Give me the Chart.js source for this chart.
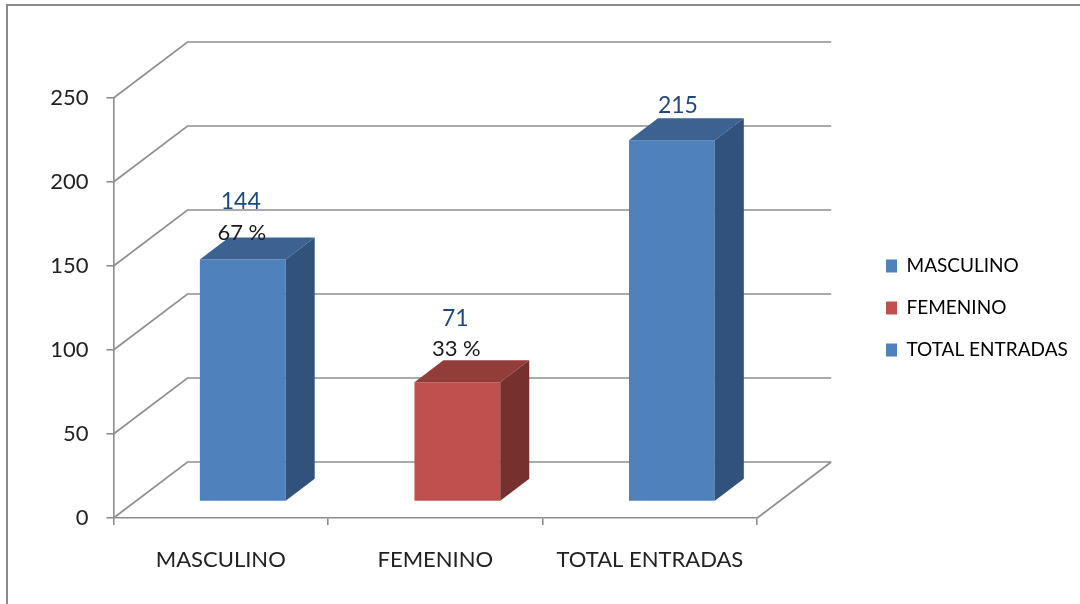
<!DOCTYPE html>
<html>
<head>
<meta charset="utf-8">
<style>html,body{margin:0;padding:0;background:#fff}canvas{display:block}</style>
<script src="https://cdn.jsdelivr.net/npm/chart.js@4"></script>
</head>
<body>
<canvas id="c" width="1080" height="604"></canvas>
<script>
const categories = ["MASCULINO", "FEMENINO", "TOTAL ENTRADAS"];
const values = [144, 71, 215];
const percents = ["67 %", "33 %", null];
const FRONT = ["#4F81BD", "#C0504D", "#4F81BD"];
const TOP = ["#3B6290", "#933D3B", "#3B6290"];
const SIDE = ["#30527C", "#76312F", "#30527C"];
const yMax = 250, yStep = 50;
const FONT = "Lato, 'Open Sans', sans-serif";
const GRID = "#8E8E8E";
// 3-D projection offsets (pixels)
const WALL = {dx: 74, dy: -56};
const BAR_SHIFT = {dx: 22, dy: -16.5};
const BAR_DEPTH = {dx: 29, dy: -22};
const VALUE_LIFT = [58, 64, 35];
const VALUE_NUDGE = [-2, -2, 6];
const LEGEND_LEFT = 886, LEGEND_LIFT = 43;

const threeD = {
  id: "threeD",
  afterLayout(chart) {
    const lg = chart.legend;
    const dx = LEGEND_LEFT - (lg.left + lg.options.labels.padding);
    lg.left += dx; lg.right += dx;
    lg.top -= LEGEND_LIFT; lg.bottom -= LEGEND_LIFT;
  },
  beforeDraw(chart) {
    const {ctx, width, height} = chart;
    ctx.save();
    ctx.fillStyle = "#fff"; ctx.fillRect(0, 0, width, height);
    ctx.strokeStyle = "#8A8A8A"; ctx.lineWidth = 2;
    ctx.beginPath(); ctx.moveTo(7, height); ctx.lineTo(7, 5); ctx.lineTo(width, 5); ctx.stroke();
    ctx.restore();
  },
  beforeDatasetsDraw(chart) {
    const {ctx, scales: {x, y}, chartArea: a} = chart;
    ctx.save();
    ctx.strokeStyle = GRID; ctx.lineWidth = 1.6;
    ctx.beginPath();
    y.ticks.forEach(t => {
      const py = y.getPixelForValue(t.value);
      ctx.moveTo(a.left, py);
      ctx.lineTo(a.left + WALL.dx, py + WALL.dy);
      ctx.lineTo(a.right + WALL.dx, py + WALL.dy);
    });
    const y0 = y.getPixelForValue(0);
    ctx.moveTo(a.right, y0);
    ctx.lineTo(a.right + WALL.dx, y0 + WALL.dy);
    ctx.stroke();
    ctx.restore();
    ctx.save();
    ctx.translate(BAR_SHIFT.dx, BAR_SHIFT.dy);
  },
  afterDatasetsDraw(chart) {
    const {ctx} = chart;
    ctx.restore();
    const bars = chart.getDatasetMeta(0).data;
    bars.forEach((b, i) => {
      const l = b.x - b.width / 2 + BAR_SHIFT.dx, r = b.x + b.width / 2 + BAR_SHIFT.dx;
      const t = b.y + BAR_SHIFT.dy, bt = b.base + BAR_SHIFT.dy;
      const D = BAR_DEPTH;
      ctx.fillStyle = TOP[i];
      ctx.beginPath();
      ctx.moveTo(l, t); ctx.lineTo(l + D.dx, t + D.dy); ctx.lineTo(r + D.dx, t + D.dy); ctx.lineTo(r, t);
      ctx.closePath(); ctx.fill();
      ctx.fillStyle = SIDE[i];
      ctx.beginPath();
      ctx.moveTo(r, t); ctx.lineTo(r + D.dx, t + D.dy); ctx.lineTo(r + D.dx, bt + D.dy); ctx.lineTo(r, bt);
      ctx.closePath(); ctx.fill();
    });
    ctx.save();
    ctx.textAlign = "center"; ctx.textBaseline = "middle";
    bars.forEach((b, i) => {
      const cx = b.x + BAR_SHIFT.dx + VALUE_NUDGE[i], top = b.y + BAR_SHIFT.dy;
      ctx.font = "23px " + FONT;
      ctx.fillStyle = "#1F497D";
      ctx.fillText(String(values[i]), cx, top - VALUE_LIFT[i]);
      if (percents[i]) {
        ctx.font = "22px " + FONT;
        ctx.fillStyle = "#1a1a1a";
        ctx.fillText(percents[i], cx + 1, top - VALUE_LIFT[i] + 31);
      }
    });
    ctx.restore();
  }
};

new Chart(document.getElementById("c"), {
  type: "bar",
  plugins: [threeD],
  data: {
    labels: categories,
    datasets: [{
      data: values,
      backgroundColor: FRONT,
      borderWidth: 0,
      categoryPercentage: 1,
      barPercentage: 0.4
    }]
  },
  options: {
    responsive: false,
    animation: false,
    layout: {padding: {top: 98, left: 0, right: 108, bottom: 0}},
    plugins: {
      tooltip: {enabled: false},
      legend: {
        position: "right",
        labels: {
          boxWidth: 11, boxHeight: 13, padding: 23,
          color: "#1a1a1a",
          font: {family: FONT, size: 19},
          generateLabels: () => categories.map((c, i) => ({
            text: c, fillStyle: FRONT[i], strokeStyle: FRONT[i], lineWidth: 0, index: i
          }))
        }
      }
    },
    scales: {
      x: {
        afterFit: s => { s.height = 86; },
        grid: {drawOnChartArea: false, drawTicks: true, tickLength: 7, color: GRID, lineWidth: 1.6},
        border: {color: GRID, width: 1.6},
        ticks: {color: "#222", font: {family: FONT, size: 22}, padding: 22, maxRotation: 0, autoSkip: false}
      },
      y: {
        min: 0, max: yMax,
        afterFit: s => { s.width = 113.5; },
        grid: {drawOnChartArea: false, drawTicks: true, tickLength: 7, color: GRID, lineWidth: 1.6},
        border: {color: GRID, width: 1.6},
        ticks: {stepSize: yStep, color: "#222", font: {family: FONT, size: 22}, padding: 18}
      }
    }
  }
});
</script>
</body>
</html>
